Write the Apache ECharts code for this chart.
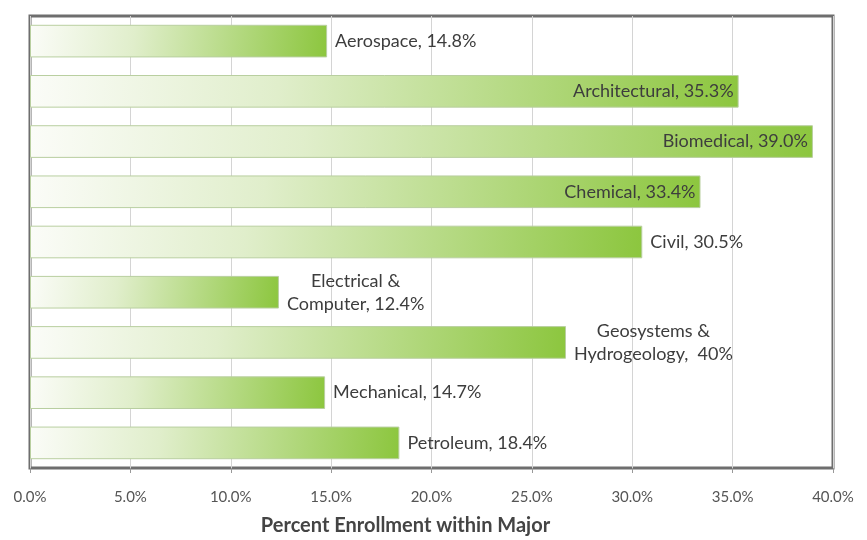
<!DOCTYPE html>
<html>
<head>
<meta charset="utf-8">
<script src="https://cdn.jsdelivr.net/npm/echarts@6/dist/echarts.min.js"></script>
<style>html,body{margin:0;padding:0;background:#fff}#c{width:867px;height:540px}</style>
</head>
<body>
<div id="c"></div>
<script>
var categories = ['Aerospace', 'Architectural', 'Biomedical', 'Chemical', 'Civil', 'Electrical & Computer', 'Geosystems & Hydrogeology', 'Mechanical', 'Petroleum'];
var values = [14.8, 35.3, 39.0, 33.4, 30.5, 12.4, 26.7, 14.7, 18.4];
var labelTexts = ['Aerospace, 14.8%', 'Architectural, 35.3%', 'Biomedical, 39.0%', 'Chemical, 33.4%', 'Civil, 30.5%', 'Electrical &\nComputer, 12.4%', 'Geosystems &\nHydrogeology,  40%', 'Mechanical, 14.7%', 'Petroleum, 18.4%'];
var xTicks = [0, 5, 10, 15, 20, 25, 30, 35, 40];

var chart = echarts.init(document.getElementById('c'));
var fontFam = 'Lato, "Open Sans", sans-serif';
var data = values.map(function (v, i) {
  var inside = v > 32;
  return {
    value: v,
    label: {
      position: inside ? 'insideRight' : 'right',
      distance: inside ? 5 : 8
    }
  };
});
chart.setOption({
  animation: false,
  grid: {
    left: 30, right: 34, top: 16, bottom: 72,
    outerBoundsMode: 'none', containLabel: false,
    show: true, borderColor: '#6e6e6e', borderWidth: 3, backgroundColor: 'transparent'
  },
  xAxis: {
    type: 'value', min: xTicks[0], max: xTicks[xTicks.length - 1], interval: 5,
    name: 'Percent Enrollment within Major',
    nameLocation: 'middle', nameGap: 48,
    nameTextStyle: { fontFamily: fontFam, fontSize: 20, fontWeight: 'bold', color: '#444444', padding: [0, 52, 0, 0] },
    axisLine: { show: false },
    axisTick: { show: true, length: 5, lineStyle: { color: '#999999' } },
    axisLabel: {
      fontFamily: fontFam, fontSize: 15, color: '#555555', margin: 22,
      formatter: function (v) { return v.toFixed(1) + '%'; }
    },
    splitLine: { show: true, lineStyle: { color: '#d4d4d4', width: 1 } }
  },
  yAxis: {
    type: 'category', data: categories, inverse: true,
    axisLine: { show: false }, axisTick: { show: false }, axisLabel: { show: false },
    splitLine: { show: false }
  },
  series: [{
    type: 'bar',
    data: data,
    barCategoryGap: '35%',
    itemStyle: {
      borderColor: '#b9cfa0', borderWidth: 1,
      color: new echarts.graphic.LinearGradient(0, 0, 1, 1, [
        { offset: 0, color: '#fbfcf8' },
        { offset: 0.35, color: '#e0eecb' },
        { offset: 1, color: '#8cc63e' }
      ])
    },
    label: {
      show: true,
      fontFamily: fontFam, fontSize: 18, color: '#3d3d3d',
      formatter: function (p) {
        return labelTexts[p.dataIndex].split('\n').map(function (s) { return '{c|' + s + '}'; }).join('\n');
      },
      rich: { c: { align: 'center', fontFamily: fontFam, fontSize: 18, color: '#3d3d3d', lineHeight: 23 } }
    }
  }]
});
</script>
</body>
</html>
